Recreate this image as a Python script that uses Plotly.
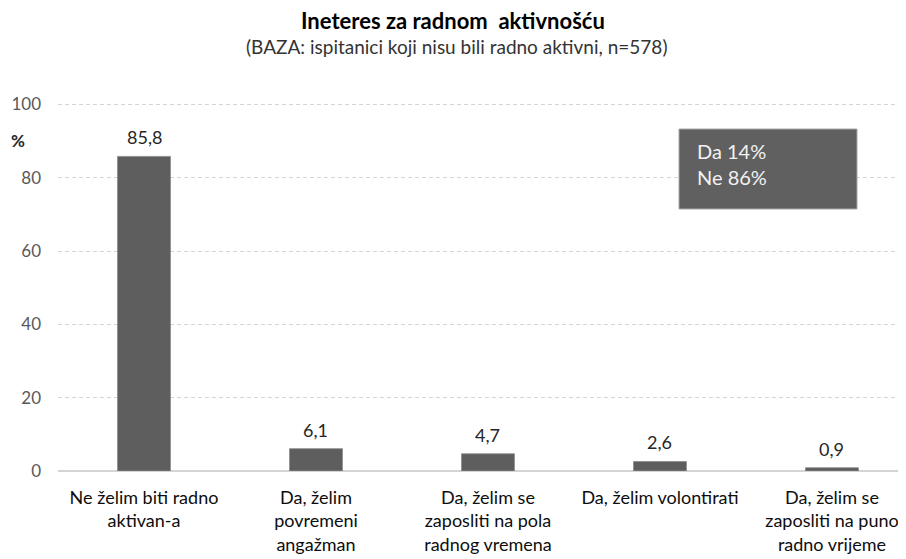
import plotly.graph_objects as go

categories = [
    "Ne želim biti radno<br>aktivan-a",
    "Da, želim<br>povremeni<br>angažman",
    "Da, želim se<br>zaposliti na pola<br>radnog vremena",
    "Da, želim volontirati",
    "Da, želim se<br>zaposliti na puno<br>radno vrijeme",
]
values = [85.8, 6.1, 4.7, 2.6, 0.9]
value_labels = ["85,8", "6,1", "4,7", "2,6", "0,9"]
y_ticks = [0, 20, 40, 60, 80, 100]

FONT = "Lato, Roboto, sans-serif"
W, H = 906, 559
OFF = 8  # browser body margin
ML, MR, MT, MB = 50, 0, 89, 96
pw, ph = W - ML - MR, H - MT - MB


def px(sx):
    return (sx - OFF - ML) / pw


def py(sy):
    return 1 - (sy - OFF - MT) / ph


fig = go.Figure()
fig.add_trace(go.Bar(
    x=list(range(len(categories))),
    y=values,
    width=0.308,
    marker=dict(color="#5e5e5e", line=dict(color="#8c8c8c", width=0.8)),
    hoverinfo="skip",
))

for i, (v, t) in enumerate(zip(values, value_labels)):
    fig.add_annotation(
        x=i, y=v, text=t, showarrow=False, xanchor="center", yanchor="bottom",
        yshift=6, font=dict(family=FONT, size=18, color="#262626"),
    )

fig.update_layout(
    template="none",
    width=W, height=H,
    margin=dict(l=ML, r=MR, t=MT, b=MB, autoexpand=False),
    paper_bgcolor="white", plot_bgcolor="white",
    showlegend=False,
    font=dict(family=FONT, color="#262626"),
    xaxis=dict(
        tickmode="array",
        tickvals=list(range(len(categories))),
        ticktext=categories,
        range=[-0.5, 4.477],
        showgrid=False,
        showline=False,
        zeroline=False,
        ticks="",
        automargin=False,
        tickfont=dict(family=FONT, size=18, color="#0d0d0d"),
        ticklabelstandoff=14,
    ),
    yaxis=dict(
        range=[0, 102],
        tickvals=y_ticks,
        showgrid=True,
        gridcolor="#d4d4d4",
        griddash="4px,3px",
        gridwidth=1,
        zeroline=True,
        zerolinecolor="#d4d4d4",
        zerolinewidth=2,
        showline=False,
        ticks="",
        automargin=False,
        tickfont=dict(family=FONT, size=17, color="#595959"),
        ticklabelstandoff=16,
    ),
)

# Titles
fig.add_annotation(
    text="<b>Ineteres za radnom&nbsp; aktivnošću</b>",
    xref="paper", yref="paper", x=px(453), y=py(20),
    xanchor="center", yanchor="middle",
    showarrow=False, font=dict(family=FONT, size=22, color="#000000"),
)
fig.add_annotation(
    text="(BAZA: ispitanici koji nisu bili radno aktivni, n=578)",
    xref="paper", yref="paper", x=px(456), y=py(46),
    xanchor="center", yanchor="middle",
    showarrow=False, font=dict(family=FONT, size=19, color="#333333"),
)
# % label
fig.add_annotation(
    text="<b>%</b>", xref="paper", yref="paper",
    x=px(9), y=py(140), xanchor="left", yanchor="middle", showarrow=False,
    font=dict(family=FONT, size=17, color="#262626"),
)

# Summary box
fig.add_shape(
    type="rect", xref="paper", yref="paper",
    x0=px(679), x1=px(857), y0=py(209), y1=py(129),
    fillcolor="#606060", line=dict(color="#a8a8a8", width=1), layer="above",
)
fig.add_annotation(
    text="Da 14%<br>Ne 86%", xref="paper", yref="paper",
    x=px(695), y=py(164), xanchor="left", yanchor="middle", align="left",
    showarrow=False, font=dict(family=FONT, size=20, color="#f2f2f2"),
)

fig.write_html("out.html")
